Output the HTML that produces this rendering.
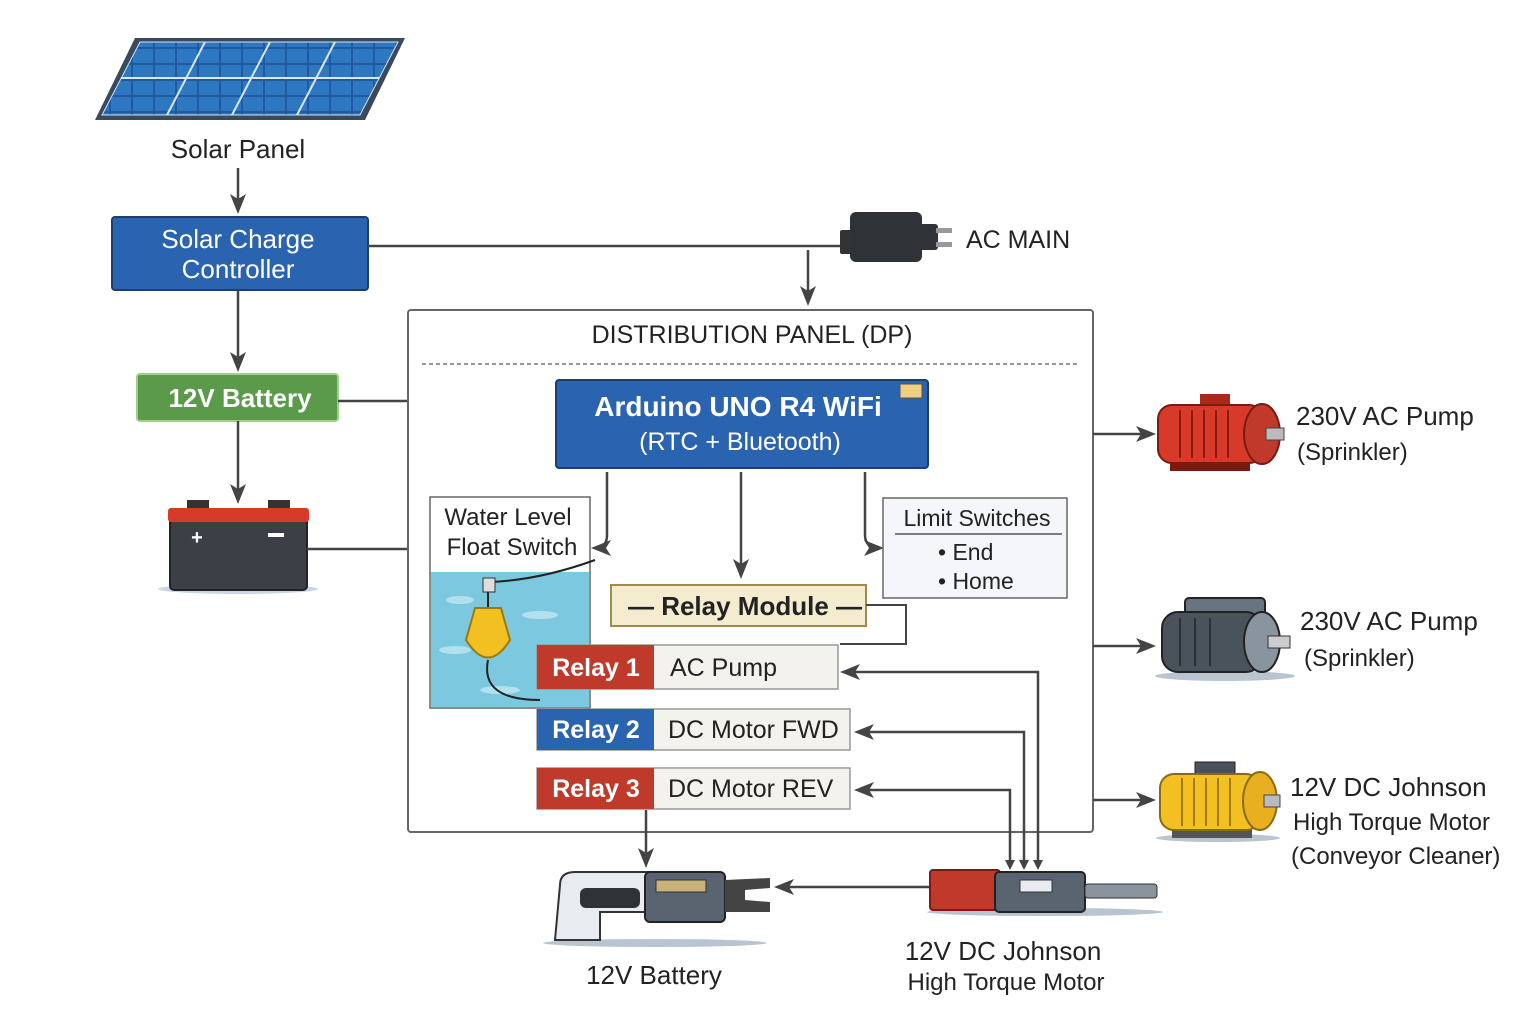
<!DOCTYPE html>
<html><head><meta charset="utf-8"><style>
body{margin:0;background:#fff}
svg{display:block}
text{font-family:"Liberation Sans","DejaVu Sans",sans-serif}
</style></head><body>
<svg width="1536" height="1024" viewBox="0 0 1536 1024" xmlns="http://www.w3.org/2000/svg">
<defs>
<marker id="ar" markerWidth="10" markerHeight="10" refX="8" refY="5" orient="auto" markerUnits="userSpaceOnUse" viewBox="0 0 10 10"><path d="M0,0 L10,5 L0,10 Z" fill="#444"/></marker>
<marker id="ar2" markerWidth="20" markerHeight="16" refX="16" refY="8" orient="auto" markerUnits="userSpaceOnUse" viewBox="0 0 20 16"><path d="M0,0 L20,8 L0,16 L5,8 Z" fill="#444"/></marker>
<pattern id="cells" width="22" height="16" patternUnits="userSpaceOnUse"><rect width="22" height="16" fill="#1f5aa0"/><rect x="1" y="1" width="20" height="14" fill="#2d78c0"/></pattern>
</defs>
<!-- Solar panel -->
<polygon points="135,38 405,38 365,120 95,120" fill="#3a4a5c"/>
<polygon points="140,42 398,42 360,115 102,115" fill="url(#cells)" stroke="#cfe3f5" stroke-width="1"/>
<g stroke="#d6e6f5" stroke-width="2">
<line x1="205" y1="42" x2="167" y2="115"/><line x1="270" y1="42" x2="232" y2="115"/><line x1="335" y1="42" x2="297" y2="115"/>
<line x1="121" y1="78" x2="379" y2="78"/>
</g>
<text x="238" y="158" font-size="26" text-anchor="middle" fill="#222">Solar Panel</text>
<line x1="238" y1="168" x2="238" y2="210" stroke="#444" stroke-width="2.5" marker-end="url(#ar2)"/>
<!-- Charge controller -->
<rect x="112" y="217" width="256" height="73" rx="3" fill="#2a63b0" stroke="#1c3f70" stroke-width="2"/>
<text x="238" y="248" font-size="26" text-anchor="middle" fill="#fff">Solar Charge</text>
<text x="238" y="278" font-size="26" text-anchor="middle" fill="#fff">Controller</text>
<line x1="368" y1="246" x2="845" y2="246" stroke="#444" stroke-width="2.5"/>
<!-- AC plug -->
<rect x="840" y="230" width="12" height="24" rx="2" fill="#333"/>
<rect x="850" y="212" width="72" height="50" rx="6" fill="#2f3338"/>
<rect x="918" y="224" width="20" height="26" rx="3" fill="#2f3338"/>
<rect x="936" y="228" width="16" height="5" fill="#999"/><rect x="936" y="242" width="16" height="5" fill="#999"/>
<text x="966" y="248" font-size="25" fill="#222">AC MAIN</text>
<line x1="808" y1="250" x2="808" y2="302" stroke="#444" stroke-width="2.5" marker-end="url(#ar2)"/>
<line x1="238" y1="290" x2="238" y2="368" stroke="#444" stroke-width="2.5" marker-end="url(#ar2)"/>
<!-- 12V battery box -->
<rect x="137" y="374" width="201" height="47" rx="3" fill="#5a9a4a" stroke="#9fcf8a" stroke-width="2"/>
<text x="240" y="407" font-size="26" font-weight="bold" text-anchor="middle" fill="#fff">12V Battery</text>
<line x1="338" y1="401" x2="408" y2="401" stroke="#444" stroke-width="2.5"/>
<line x1="238" y1="421" x2="238" y2="500" stroke="#444" stroke-width="2.5" marker-end="url(#ar2)"/>
<!-- battery icon -->
<ellipse cx="238" cy="589" rx="80" ry="5" fill="#c8d6e6"/>
<rect x="187" y="500" width="22" height="12" fill="#333"/><rect x="268" y="500" width="22" height="12" fill="#333"/>
<rect x="170" y="510" width="137" height="80" rx="4" fill="#3c4046" stroke="#222" stroke-width="2"/>
<rect x="168" y="508" width="141" height="14" rx="3" fill="#d83a2a"/>
<text x="197" y="544" font-size="20" font-weight="bold" fill="#fff" text-anchor="middle">+</text>
<rect x="268" y="533" width="16" height="4" fill="#fff"/>
<line x1="307" y1="549" x2="408" y2="549" stroke="#444" stroke-width="2.5"/>
<!-- DP -->
<rect x="408" y="310" width="685" height="522" rx="3" fill="#fff" stroke="#666" stroke-width="2"/>
<text x="752" y="343" font-size="25" text-anchor="middle" fill="#222">DISTRIBUTION PANEL (DP)</text>
<line x1="422" y1="364" x2="1078" y2="364" stroke="#777" stroke-width="1.5" stroke-dasharray="4,3"/>
<!-- Arduino -->
<rect x="556" y="380" width="372" height="88" rx="3" fill="#2a63b0" stroke="#1c3f70" stroke-width="2"/>
<rect x="900" y="384" width="22" height="14" fill="#f0d080" stroke="#555"/>
<text x="738" y="416" font-size="28" font-weight="bold" text-anchor="middle" fill="#fff">Arduino UNO R4 WiFi</text>
<text x="740" y="450" font-size="25" text-anchor="middle" fill="#fff">(RTC + Bluetooth)</text>
<path d="M607,472 L607,535 Q607,548 595,548" fill="none" stroke="#444" stroke-width="2.5" marker-end="url(#ar2)"/>
<line x1="741" y1="472" x2="741" y2="575" stroke="#444" stroke-width="2.5" marker-end="url(#ar2)"/>
<path d="M865,472 L865,535 Q865,548 880,548" fill="none" stroke="#444" stroke-width="2.5" marker-end="url(#ar2)"/>
<!-- Water level -->
<rect x="430" y="497" width="160" height="211" fill="#fff" stroke="#666" stroke-width="1.5"/>
<rect x="431" y="572" width="158" height="135" fill="#7cc8de"/>
<g fill="#bfe6f2" opacity="0.8"><ellipse cx="460" cy="600" rx="14" ry="4"/><ellipse cx="540" cy="615" rx="18" ry="4"/><ellipse cx="455" cy="650" rx="16" ry="4"/><ellipse cx="560" cy="670" rx="14" ry="4"/><ellipse cx="500" cy="690" rx="20" ry="4"/></g>
<text x="508" y="525" font-size="24" text-anchor="middle" fill="#222">Water Level</text>
<text x="512" y="555" font-size="24" text-anchor="middle" fill="#222">Float Switch</text>
<path d="M488,582 L488,610 M490,582 Q540,580 595,560" fill="none" stroke="#222" stroke-width="2"/>
<rect x="483" y="578" width="12" height="14" fill="#ddd" stroke="#333"/>
<path d="M475,608 L501,608 L510,640 Q488,675 466,640 Z" fill="#f2c021" stroke="#9a7a10" stroke-width="2"/>
<path d="M488,660 Q480,700 540,700" fill="none" stroke="#222" stroke-width="2"/>
<!-- Limit switches -->
<rect x="883" y="498" width="184" height="100" fill="#f4f6f9" stroke="#666" stroke-width="1.5"/>
<text x="977" y="526" font-size="23" text-anchor="middle" fill="#222">Limit Switches</text>
<line x1="895" y1="534" x2="1062" y2="534" stroke="#555" stroke-width="1.5"/>
<text x="938" y="560" font-size="23" fill="#222">• End</text>
<text x="938" y="589" font-size="23" fill="#222">• Home</text>
<!-- Relay module -->
<rect x="611" y="585" width="255" height="41" fill="#f5ecd0" stroke="#a08a50" stroke-width="2"/>
<text x="745" y="615" font-size="26" font-weight="bold" text-anchor="middle" fill="#222">— Relay Module —</text>
<polyline points="866,605 906,605 906,644 840,644" fill="none" stroke="#444" stroke-width="2"/>
<!-- relays -->
<rect x="537" y="645" width="301" height="44" fill="#f4f2ec" stroke="#999" stroke-width="1.5"/>
<rect x="537" y="645" width="117" height="44" fill="#bf3a2a"/>
<text x="596" y="676" font-size="25" font-weight="bold" text-anchor="middle" fill="#fff">Relay 1</text>
<text x="670" y="676" font-size="25" fill="#222">AC Pump</text>
<rect x="537" y="709" width="313" height="41" fill="#f4f2ec" stroke="#999" stroke-width="1.5"/>
<rect x="537" y="709" width="117" height="41" fill="#2a63b0"/>
<text x="596" y="738" font-size="25" font-weight="bold" text-anchor="middle" fill="#fff">Relay 2</text>
<text x="668" y="738" font-size="25" fill="#222">DC Motor FWD</text>
<rect x="537" y="768" width="313" height="41" fill="#f4f2ec" stroke="#999" stroke-width="1.5"/>
<rect x="537" y="768" width="117" height="41" fill="#bf3a2a"/>
<text x="596" y="797" font-size="25" font-weight="bold" text-anchor="middle" fill="#fff">Relay 3</text>
<text x="668" y="797" font-size="25" fill="#222">DC Motor REV</text>
<!-- feedback lines -->
<polyline points="1038,865 1038,672 844,672" fill="none" stroke="#444" stroke-width="2.5" marker-end="url(#ar2)"/>
<polyline points="1024,865 1024,732 858,732" fill="none" stroke="#444" stroke-width="2.5" marker-end="url(#ar2)"/>
<polyline points="1010,865 1010,790 858,790" fill="none" stroke="#444" stroke-width="2.5" marker-end="url(#ar2)"/>
<line x1="1010" y1="845" x2="1010" y2="868" stroke="#444" stroke-width="2" marker-end="url(#ar)"/>
<line x1="1024" y1="845" x2="1024" y2="868" stroke="#444" stroke-width="2" marker-end="url(#ar)"/>
<line x1="1038" y1="845" x2="1038" y2="868" stroke="#444" stroke-width="2" marker-end="url(#ar)"/>
<line x1="646" y1="810" x2="646" y2="864" stroke="#444" stroke-width="2.5" marker-end="url(#ar2)"/>
<!-- actuator -->
<ellipse cx="655" cy="943" rx="112" ry="4" fill="#b8c4d0"/>
<path d="M560,885 Q560,872 575,872 L650,872 L650,912 L600,912 L600,940 L555,940 L560,885 Z" fill="#e8ecf0" stroke="#333" stroke-width="2"/>
<rect x="580" y="888" width="60" height="20" rx="6" fill="#2f3338"/>
<rect x="645" y="872" width="80" height="50" rx="5" fill="#5a6470" stroke="#222" stroke-width="2"/>
<rect x="656" y="880" width="50" height="12" fill="#c9b27a" stroke="#333"/>
<path d="M725,880 L770,878 L770,888 L745,890 L745,900 L770,902 L770,912 L725,912 Z" fill="#444"/>
<text x="654" y="984" font-size="26" text-anchor="middle" fill="#222">12V Battery</text>
<line x1="930" y1="887" x2="778" y2="887" stroke="#444" stroke-width="2.5" marker-end="url(#ar2)"/>
<!-- bottom motor -->
<ellipse cx="1045" cy="912" rx="118" ry="4" fill="#b8c4d0"/>
<rect x="930" y="870" width="70" height="40" rx="3" fill="#c0392b" stroke="#7a1a10" stroke-width="2"/>
<rect x="995" y="872" width="90" height="40" rx="4" fill="#5a6470" stroke="#222" stroke-width="2"/>
<rect x="1020" y="880" width="32" height="12" fill="#e8ecf0" stroke="#333"/>
<rect x="1085" y="884" width="72" height="14" rx="3" fill="#8a949e" stroke="#333"/>
<text x="1003" y="960" font-size="26" text-anchor="middle" fill="#222">12V DC Johnson</text>
<text x="1006" y="990" font-size="24" text-anchor="middle" fill="#222">High Torque Motor</text>
<!-- right arrows -->
<line x1="1093" y1="434" x2="1152" y2="434" stroke="#444" stroke-width="2.5" marker-end="url(#ar2)"/>
<line x1="1093" y1="646" x2="1152" y2="646" stroke="#444" stroke-width="2.5" marker-end="url(#ar2)"/>
<line x1="1093" y1="800" x2="1152" y2="800" stroke="#444" stroke-width="2.5" marker-end="url(#ar2)"/>
<!-- pump 1 red -->
<rect x="1170" y="455" width="80" height="16" fill="#7a1a10"/>
<rect x="1200" y="394" width="30" height="14" fill="#a82a1a"/>
<rect x="1158" y="405" width="105" height="58" rx="14" fill="#d83a2a" stroke="#7a1a10" stroke-width="2"/>
<g stroke="#8a1a10" stroke-width="2"><line x1="1180" y1="410" x2="1180" y2="458"/><line x1="1192" y1="410" x2="1192" y2="458"/><line x1="1204" y1="410" x2="1204" y2="458"/><line x1="1216" y1="410" x2="1216" y2="458"/><line x1="1228" y1="410" x2="1228" y2="458"/></g>
<ellipse cx="1262" cy="434" rx="18" ry="30" fill="#c0392b" stroke="#7a1a10" stroke-width="2"/>
<rect x="1266" y="428" width="18" height="12" fill="#bbb" stroke="#444"/>
<text x="1296" y="425" font-size="26" fill="#222">230V AC Pump</text>
<text x="1297" y="460" font-size="24" fill="#222">(Sprinkler)</text>
<!-- pump 2 grey -->
<ellipse cx="1225" cy="676" rx="70" ry="5" fill="#b8c4d0"/>
<rect x="1185" y="598" width="80" height="20" rx="4" fill="#6a7480" stroke="#222" stroke-width="2"/>
<rect x="1162" y="612" width="100" height="60" rx="16" fill="#4a525c" stroke="#222" stroke-width="2"/>
<g stroke="#2a3038" stroke-width="2"><line x1="1180" y1="618" x2="1180" y2="666"/><line x1="1195" y1="618" x2="1195" y2="666"/><line x1="1210" y1="618" x2="1210" y2="666"/></g>
<ellipse cx="1262" cy="642" rx="18" ry="30" fill="#8a949e" stroke="#222" stroke-width="2"/>
<rect x="1268" y="636" width="22" height="12" fill="#ccc" stroke="#333"/>
<text x="1300" y="630" font-size="26" fill="#222">230V AC Pump</text>
<text x="1304" y="666" font-size="24" fill="#222">(Sprinkler)</text>
<!-- motor 3 yellow -->
<ellipse cx="1218" cy="838" rx="62" ry="4" fill="#b8c4d0"/>
<rect x="1172" y="828" width="80" height="10" fill="#555"/>
<rect x="1195" y="762" width="40" height="16" fill="#4a525c" stroke="#222"/>
<rect x="1160" y="774" width="100" height="56" rx="14" fill="#f2c021" stroke="#8a6a10" stroke-width="2"/>
<g stroke="#a07a10" stroke-width="2"><line x1="1182" y1="778" x2="1182" y2="826"/><line x1="1194" y1="778" x2="1194" y2="826"/><line x1="1206" y1="778" x2="1206" y2="826"/><line x1="1218" y1="778" x2="1218" y2="826"/><line x1="1230" y1="778" x2="1230" y2="826"/></g>
<ellipse cx="1260" cy="801" rx="17" ry="29" fill="#e8b020" stroke="#8a6a10" stroke-width="2"/>
<rect x="1264" y="795" width="16" height="12" fill="#bbb" stroke="#444"/>
<text x="1290" y="796" font-size="26" fill="#222">12V DC Johnson</text>
<text x="1293" y="830" font-size="24" fill="#222">High Torque Motor</text>
<text x="1291" y="864" font-size="24" fill="#222">(Conveyor Cleaner)</text>
</svg>
</body></html>
